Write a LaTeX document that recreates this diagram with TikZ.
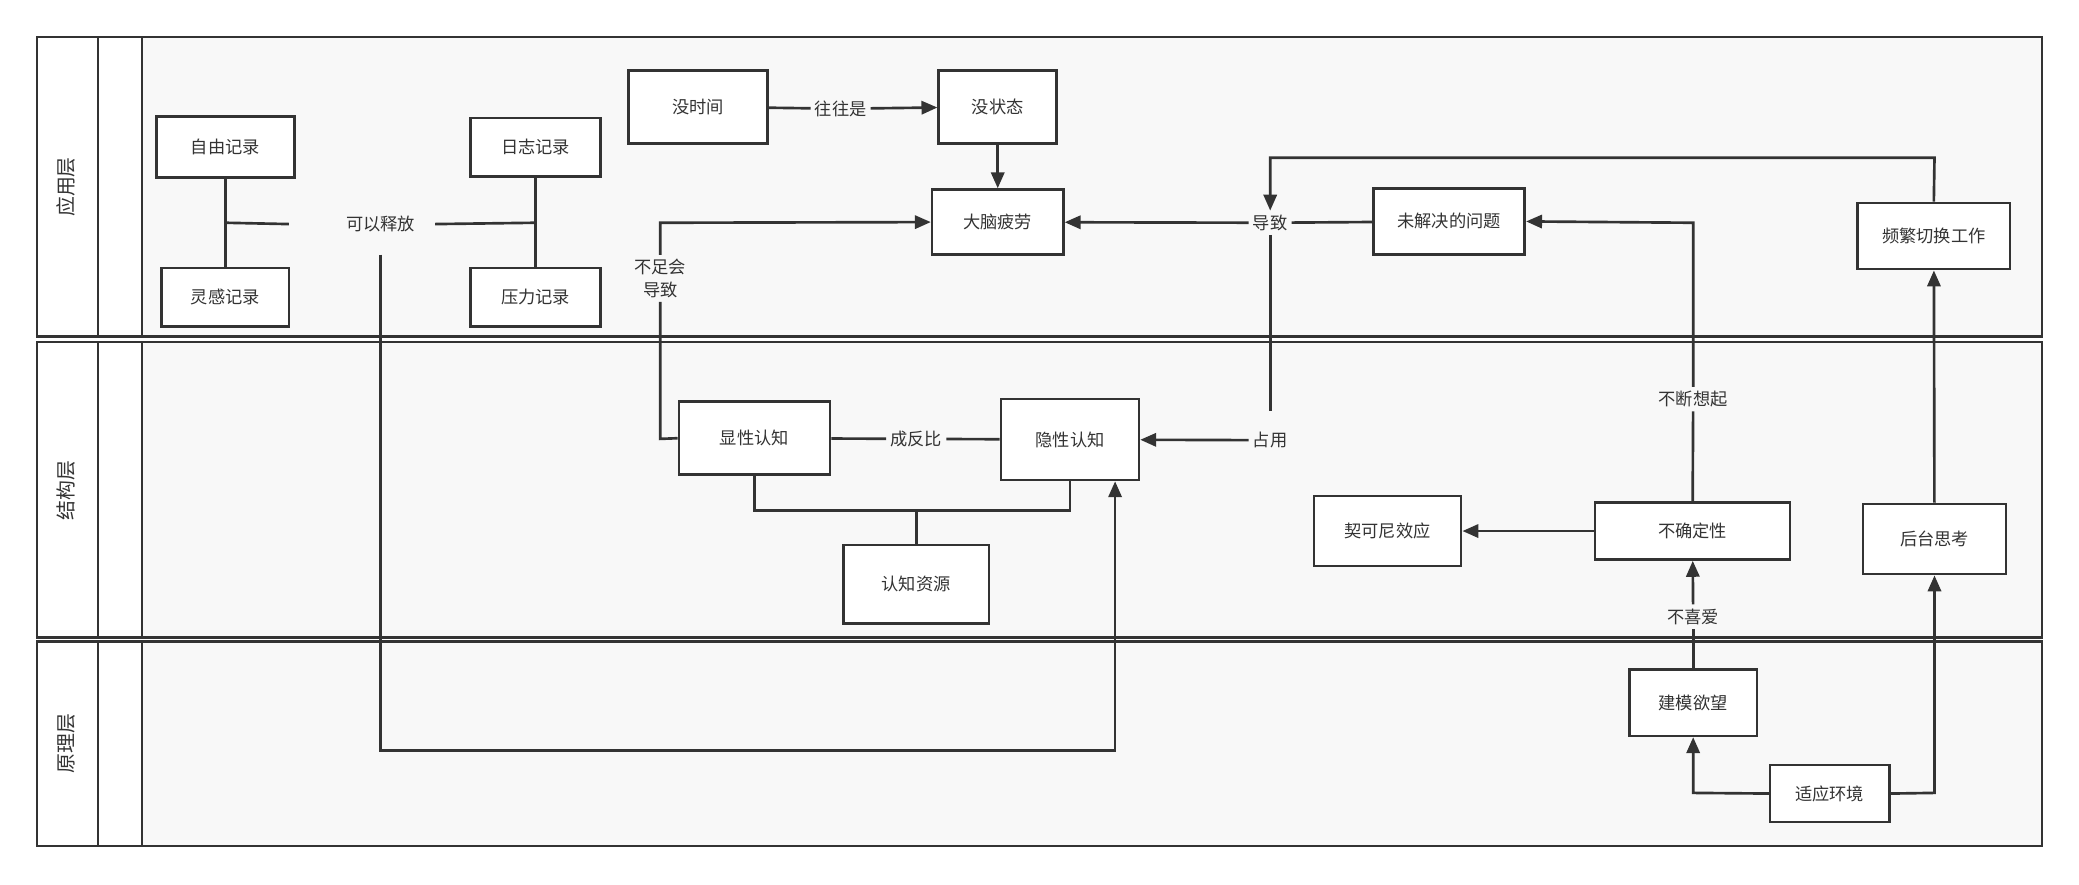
\documentclass[tikz,border=0pt]{standalone}
\usepackage{fontspec}
\newfontfamily\cjk{Noto Sans CJK SC}
\usetikzlibrary{arrows.meta}
\definecolor{ln}{HTML}{333333}
\definecolor{bg}{HTML}{F8F8F8}
\begin{document}
\begin{tikzpicture}[x=1pt,y=-1pt,
 every node/.style={font=\cjk\fontsize{13}{15}\selectfont,text=ln},
 box/.style={draw=ln,line width=2pt,fill=white,inner sep=0pt},
 lbl/.style={fill=bg,inner sep=3pt,align=center},
 con/.style={draw=ln,line width=2pt},
 arr/.style={con,-{Triangle[length=12pt,width=10pt]}}]
\useasboundingbox[fill=white] (0,0) rectangle (1568,667);
% lanes
\draw[draw=ln,line width=2pt,fill=bg] (28,28) rectangle (1540,254);
\draw[draw=ln,line width=2pt,fill=bg] (28,258) rectangle (1540,481);
\draw[draw=ln,line width=2pt,fill=bg] (28,484) rectangle (1540,638);
\foreach \a/\b in {28/254,258/481,484/638}{
 \draw[ln,line width=2pt,fill=white] (28,\a) rectangle (74,\b);
 \draw[ln,line width=2pt,fill=white] (74,\a) rectangle (107,\b);}
\node[rotate=90,font=\cjk\fontsize{15}{17}\selectfont] (L1) at (50,141) {应用层};
\node[rotate=90,font=\cjk\fontsize{15}{17}\selectfont] (L2) at (50,370) {结构层};
\node[rotate=90,font=\cjk\fontsize{15}{17}\selectfont] (L3) at (50,561) {原理层};
% boxes
\newcommand\bx[6]{\node[box,minimum width=#4-#2,minimum height=#5-#3] (#1) at ({(#2+#4)/2},{(#3+#5)/2}) {#6};}
\bx{zy}{118}{88}{222}{134}{自由记录}
\bx{lg}{122}{202}{218}{246}{灵感记录}
\bx{rz}{355}{89}{453}{133}{日志记录}
\bx{yl}{355}{202}{453}{246}{压力记录}
\bx{msj}{474}{53}{579}{108}{没时间}
\bx{mzt}{708}{53}{797}{108}{没状态}
\bx{dn}{703}{143}{802}{192}{大脑疲劳}
\bx{wj}{1036}{142}{1150}{192}{未解决的问题}
\bx{pf}{1401}{153}{1516}{203}{频繁切换工作}
\bx{xx}{512}{303}{626}{358}{显性认知}
\bx{yx}{755}{301}{859}{362}{隐性认知}
\bx{rz2}{636}{411}{746}{470}{认知资源}
\bx{qk}{991}{374}{1102}{427}{契可尼效应}
\bx{bq}{1203}{379}{1350}{422}{不确定性}
\bx{ht}{1405}{380}{1513}{433}{后台思考}
\bx{jm}{1229}{505}{1325}{555}{建模欲望}
\bx{sy}{1335}{577}{1425}{620}{适应环境}
% labels
\node[lbl,minimum width=110pt,minimum height=46pt] (kf) at (273,169) {\hspace*{28pt}可以释放};
\node[lbl] (wws) at (634,82) {往往是};
\node[lbl,font=\cjk\fontsize{13}{17}\selectfont] (bz) at (498,210) {不足会\\导致};
\node[lbl] (dz) at (958,168) {导致};
\node[lbl] (zy2) at (958,332) {占用};
\node[lbl] (cf) at (691,331) {成反比};
\node[lbl] (bd) at (1277,301) {不断想起};
\node[lbl] (bx) at (1277,465) {不喜爱};
\coordinate (c1) at (170,168);
\coordinate (c2) at (404,168);
\coordinate (c3) at (691,385);
\coordinate (k1) at (287,192);
% connectors
\draw[con] (zy) -- (lg);
\draw[con] (c1) -- (kf.west);
\draw[con] (rz) -- (yl);
\draw[con] (kf.east) -- (c2);
\draw[arr] (k1) -- (287,566) -- (841,566) -- (yx.south -| 841,0);
\draw[arr] (msj) -- (wws) -- (mzt);
\draw[arr] (mzt) -- (dn);
\draw[con] (xx.west) -- (498,331) -- (bz.south);
\draw[arr] (bz.north) -- (498,168) -- (dn.west);
\draw[arr] (dz) -- (dn);
\draw[con] (wj) -- (dz);
\draw[con] (dz.south) -- (958,310);
\draw[arr] (zy2) -- (yx);
\draw[arr] (pf.north) -- (1459,119) -- (958,119) -- (dz.north);
\draw[con] (xx) -- (cf) -- (yx);
\draw[con] (569,358) -- (569,385) -- (807,385) -- (807,362);
\draw[con] (c3) -- (rz2);
\draw[arr] (bq) -- (qk);
\draw[con] (bq) -- (bd);
\draw[arr] (bd.north) -- (1277,168) -- (wj.east);
\draw[arr] (ht) -- (pf);
\draw[con] (jm) -- (bx);
\draw[arr] (bx) -- (bq);
\draw[arr] (sy.west) -- (1277,598) -- (jm.south);
\draw[arr] (sy.east) -- (1459,598) -- (ht.south);
\end{tikzpicture}
\end{document}
